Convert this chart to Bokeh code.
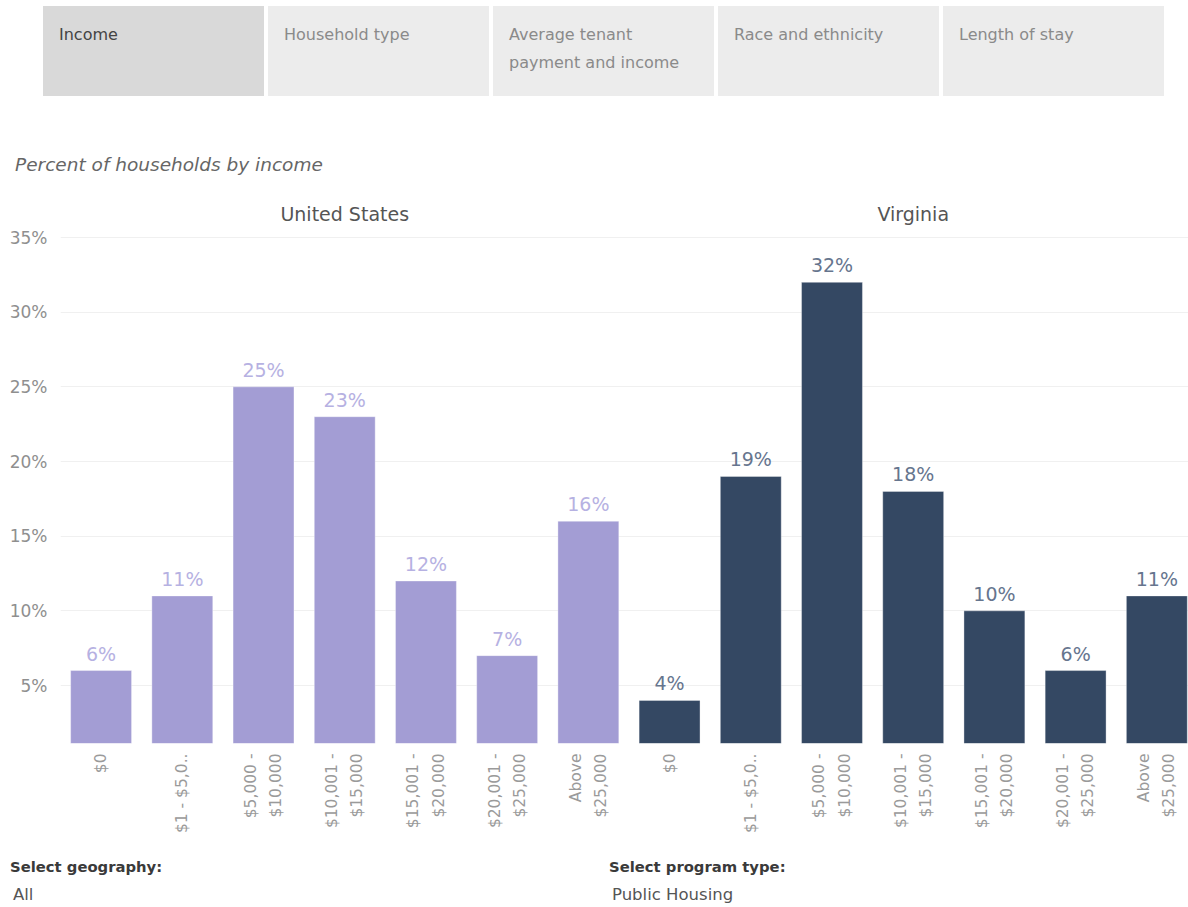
from bokeh.plotting import figure
from bokeh.models import Div, Label, ColumnDataSource, FixedTicker
from bokeh.layouts import column
from bokeh.embed import file_html
from bokeh.resources import INLINE
from bokeh.core.properties import value

# ---- data ----
income_bins = ["$0", "$1 - $5,0..", "$5,000 -\n$10,000", "$10,001 -\n$15,000",
               "$15,001 -\n$20,000", "$20,001 -\n$25,000", "Above\n$25,000"]
us_values = [6, 11, 25, 23, 12, 7, 16]
va_values = [4, 19, 32, 18, 10, 6, 11]
geographies = ["United States", "Virginia"]
tabs = ["Income", "Household type", "Average tenant\npayment and income",
        "Race and ethnicity", "Length of stay"]
y_ticks = [5, 10, 15, 20, 25, 30, 35]

FONT = "DejaVu Sans"
US_COLOR = "#a39dd4"
VA_COLOR = "#344863"
US_LABEL = "#b6b1e2"
VA_LABEL = "#66758e"

n = len(income_bins)
xs = list(range(2 * n))
vals = us_values + va_values
colors = [US_COLOR] * n + [VA_COLOR] * n
lcolors = [US_LABEL] * n + [VA_LABEL] * n
labels = [f"{v}%" for v in vals]
src = ColumnDataSource(dict(x=xs, top=vals, color=colors, lcolor=lcolors, label=labels))

# ---- top div: tabs + subtitle ----
tab_left = [43, 268, 493, 718, 943]
tab_html = ""
for i, t in enumerate(tabs):
    bg = "#d9d9d9" if i == 0 else "#ececec"
    fg = "#444" if i == 0 else "#8a8a8a"
    tab_html += (f'<div style="position:absolute;left:{tab_left[i]}px;top:6px;width:221px;height:90px;'
                 f'background:{bg};"><div style="position:absolute;left:16px;top:15px;color:{fg};'
                 f'font-family:\'{FONT}\';font-size:16px;line-height:28px;white-space:pre;">{t}</div></div>')
tab_html += (f'<div style="position:absolute;left:15px;top:153px;color:#666;font-family:\'{FONT}\';'
             f'font-style:italic;font-size:18.5px;line-height:24px;">Percent of households by income</div>')
top_div = Div(text=f'<div style="position:relative;width:1188px;height:188px;">{tab_html}</div>',
              width=1188, height=188, margin=(0, 0, 0, 0))

# ---- figure ----
p = figure(width=1188, height=664, output_backend="svg", toolbar_location=None,
           x_range=(-0.5, 13.39), y_range=(1.116, 38.15),
           min_border_top=2, min_border_left=60, min_border_right=0, min_border_bottom=109)
p.outline_line_color = None
p.background_fill_color = "white"
p.border_fill_color = "white"

p.vbar(x="x", top="top", bottom=0, width=0.75, fill_color="color", line_color="#ffffff",
       line_alpha=0.35, line_width=1, source=src)
p.text(x="x", y="top", text="label", text_color="lcolor", text_align="center",
       text_baseline="alphabetic", y_offset=-17, text_font=value(FONT),
       text_font_size="19px", source=src)

for gi, g in enumerate(geographies):
    p.add_layout(Label(x=gi * n + (n - 1) / 2, y=36.6, text=g, text_align="center",
                       text_baseline="middle", text_color="#555555", text_font=FONT,
                       text_font_size="19px"))

p.yaxis.ticker = FixedTicker(ticks=y_ticks)
p.yaxis.major_label_overrides = {t: f"{t}%" for t in y_ticks}
p.yaxis.axis_line_color = None
p.yaxis.major_tick_line_color = None
p.yaxis.minor_tick_line_color = None
p.yaxis.major_label_text_color = "#8f8f8f"
p.yaxis.major_label_text_font = FONT
p.yaxis.major_label_text_font_size = "17px"
p.yaxis.major_label_standoff = 7

p.xaxis.ticker = FixedTicker(ticks=xs)
p.xaxis.major_label_overrides = {i: income_bins[i % n] for i in xs}
p.xaxis.major_label_orientation = 1.5707963
p.xaxis.axis_line_color = None
p.xaxis.major_tick_line_color = None
p.xaxis.minor_tick_line_color = None
p.xaxis.major_label_text_color = "#9a9a9a"
p.xaxis.major_label_text_font = FONT
p.xaxis.major_label_text_font_size = "15.5px"
p.xaxis.major_label_text_line_height = 1.4
p.xaxis.major_label_standoff = 4

p.xgrid.grid_line_color = None
p.ygrid.grid_line_color = "#f0f0f0"
p.ygrid.ticker = FixedTicker(ticks=y_ticks)

# ---- bottom div ----
bot_html = (f'<div style="position:relative;width:1188px;height:52px;font-family:\'{FONT}\';">'
            f'<div style="position:absolute;left:10px;top:4px;color:#3a3a3a;font-weight:bold;font-size:14.8px;">Select geography:</div>'
            f'<div style="position:absolute;left:13px;top:31px;color:#555;font-size:16.5px;">All</div>'
            f'<div style="position:absolute;left:609px;top:4px;color:#3a3a3a;font-weight:bold;font-size:14.8px;">Select program type:</div>'
            f'<div style="position:absolute;left:612px;top:31px;color:#555;font-size:16.5px;">Public Housing</div>'
            f'</div>')
bot_div = Div(text=bot_html, width=1188, height=52, margin=(0, 0, 0, 0))

layout = column(top_div, p, bot_div, spacing=0)
open("out.html", "w").write(file_html(layout, INLINE))
